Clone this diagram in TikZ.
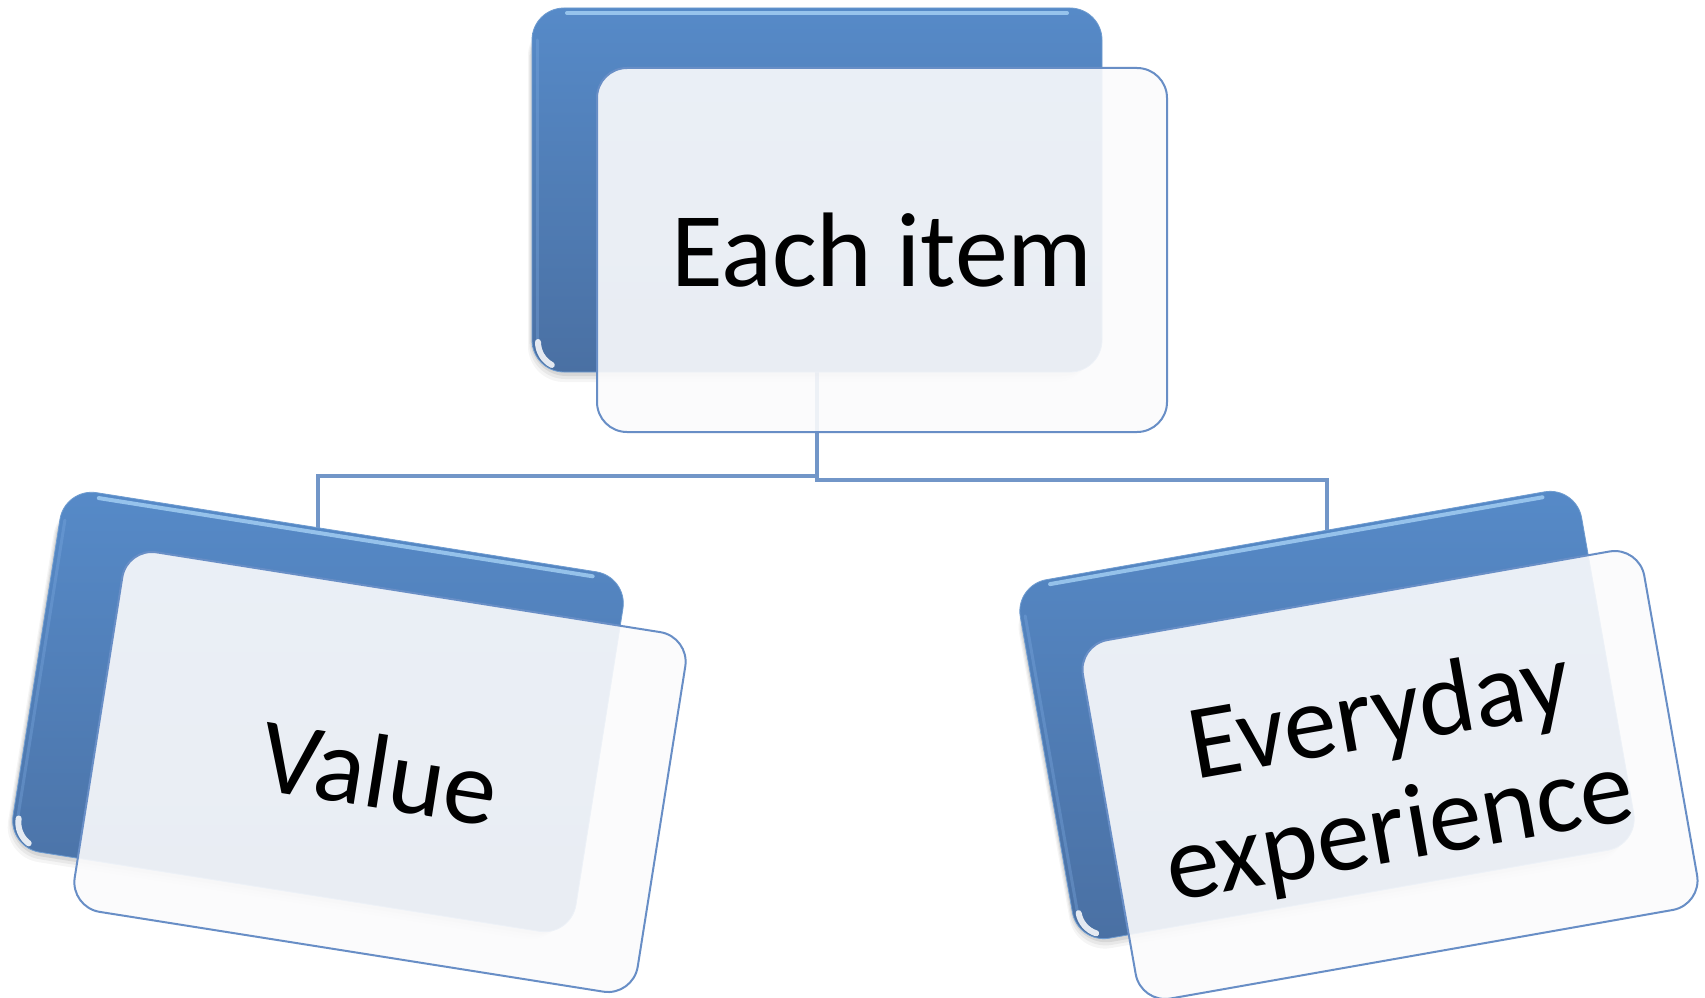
\documentclass[tikz,border=0pt]{standalone}
\usepackage{fontspec}
\setmainfont{Carlito}
\definecolor{bluetop}{RGB}{86,138,200}
\definecolor{bluebot}{RGB}{74,112,163}
\definecolor{glosscol}{RGB}{178,220,252}
\definecolor{edgecol}{RGB}{125,170,225}
\definecolor{cardedge}{RGB}{104,142,198}
\definecolor{cardfill}{RGB}{251,251,252}
\definecolor{connc}{RGB}{114,150,200}
\pgfdeclarelayer{back}
\pgfdeclarelayer{background}
\pgfsetlayers{back,background,main}
\tikzset{
  bluebox/.style={rounded corners=32pt, minimum width=570pt, minimum height=364pt,
    inner sep=0pt, top color=bluetop, bottom color=bluebot, draw=bluetop!85!white, line width=0.8pt},
  whitebox/.style={rounded corners=30pt, minimum width=570pt, minimum height=364pt,
    inner sep=0pt, draw=cardedge, line width=2pt, fill=cardfill, fill opacity=0.9,
    text opacity=1, text=black, align=center, font=\fontsize{106}{116}\selectfont},
  conn/.style={draw=connc, line width=4pt},
  glossline/.style={draw=glosscol, line width=4pt, line cap=round, opacity=0.7},
  sideline/.style={draw=edgecol, line width=3pt, line cap=round, opacity=0.35},
  cornerglow/.style={draw=white, line width=6pt, line cap=round, opacity=0.85},
}
\newcommand{\bluecard}[4]{%
  \begin{scope}[shift={(#2,#3)}, rotate=#4]
    \foreach \s/\o in {10/0.04,7/0.05,4/0.07}{
      \fill[black, opacity=\o, rounded corners=36pt] (-285-0.4*\s,-170) rectangle (285-\s,182+\s);}
    \node[bluebox, rotate=#4] (#1) at (0,0) {};
    \draw[glossline] (-250,-177) -- (250,-177);
    \draw[sideline] (-280,-150) -- (-280,150);
    \draw[cornerglow] (-279,152) arc[start angle=180, end angle=118, radius=26];
  \end{scope}}
\begin{document}
\begin{tikzpicture}[x=1pt, y=-1pt]
  \useasboundingbox (0,0) rectangle (1705,998);
  \begin{pgfonlayer}{back}
    \fill[white] (0,0) rectangle (1705,998);
  \end{pgfonlayer}

  % top group
  \bluecard{tb}{817}{190}{0}
  \node[whitebox] (tw) at (882,250) {Each item};

  % left group
  \bluecard{lb}{318}{712}{-9}
  \node[whitebox, rotate=-9] (lw) at (380,772) {Value};

  % right group
  \bluecard{rb}{1327}{715}{10}
  \node[whitebox, rotate=10] (rw) at (1390,775) {Everyday\\experience};

  % connectors
  \coordinate (jl) at (817,476);
  \coordinate (jr) at (817,480);
  \begin{pgfonlayer}{background}
    \draw[conn] (tb.south) -- (jr) -| (rb.center);
    \draw[conn] (jl) -| (lb.center);
  \end{pgfonlayer}
\end{tikzpicture}
\end{document}
